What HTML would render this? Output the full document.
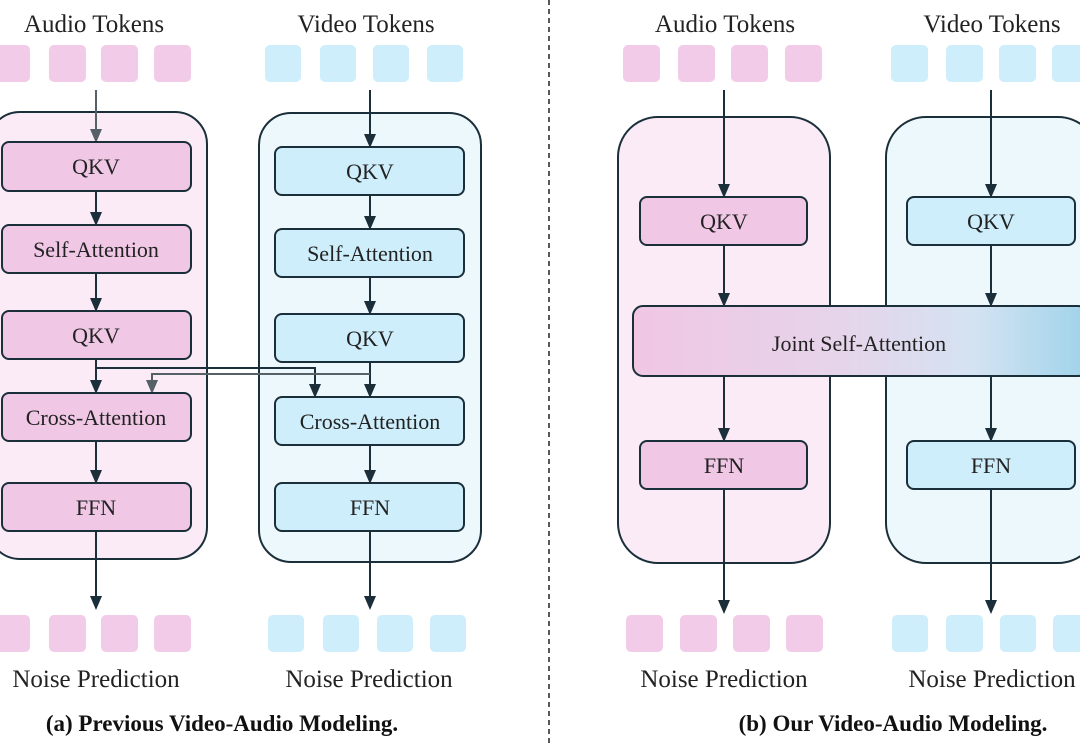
<!DOCTYPE html>
<html><head><meta charset="utf-8"><style>
html,body{margin:0;padding:0;background:#fff;}
svg{display:block;font-family:"Liberation Serif",serif;}
</style></head><body>
<svg width="1080" height="744" viewBox="0 0 1080 744" xmlns="http://www.w3.org/2000/svg">
<defs>
<marker id="ah" markerWidth="14" markerHeight="14" refX="12" refY="6" orient="auto" markerUnits="userSpaceOnUse" viewBox="0 0 14 12"><path d="M0,0 L14,6 L0,12 z" fill="#1b2f3a"/></marker>
<marker id="ahg" markerWidth="14" markerHeight="14" refX="12" refY="6" orient="auto" markerUnits="userSpaceOnUse" viewBox="0 0 14 12"><path d="M0,0 L14,6 L0,12 z" fill="#556067"/></marker>
<linearGradient id="jg" x1="0" x2="1" y1="0" y2="0">
<stop offset="0" stop-color="#f0c6e3"/><stop offset="0.45" stop-color="#e6d4ea"/><stop offset="0.75" stop-color="#d4e3f2"/><stop offset="1" stop-color="#9fd3ea"/></linearGradient>
</defs>
<g font-size="25" fill="#222" text-anchor="middle">
<text x="94" y="32">Audio Tokens</text>
<text x="366" y="32">Video Tokens</text>
<text x="725" y="32">Audio Tokens</text>
<text x="992" y="32">Video Tokens</text>
<text x="96" y="687">Noise Prediction</text>
<text x="369" y="687">Noise Prediction</text>
<text x="724" y="687">Noise Prediction</text>
<text x="992" y="687">Noise Prediction</text>
</g>
<g font-size="23" font-weight="bold" fill="#111" text-anchor="middle">
<text x="222" y="731">(a) Previous Video-Audio Modeling.</text>
<text x="893" y="731">(b) Our Video-Audio Modeling.</text>
</g>
<line x1="549" y1="0" x2="549" y2="744" stroke="#222" stroke-width="1.5" stroke-dasharray="5,4"/>
<g fill="#f2cbe8">
<rect x="-6" y="45" width="36" height="37" rx="5"/><rect x="49" y="45" width="37" height="37" rx="5"/><rect x="101" y="45" width="37" height="37" rx="5"/><rect x="154" y="45" width="37" height="37" rx="5"/>
<rect x="-6" y="615" width="36" height="37" rx="5"/><rect x="49" y="615" width="37" height="37" rx="5"/><rect x="101" y="615" width="37" height="37" rx="5"/><rect x="154" y="615" width="37" height="37" rx="5"/>
<rect x="623" y="45" width="37" height="37" rx="5"/><rect x="678" y="45" width="37" height="37" rx="5"/><rect x="731" y="45" width="37" height="37" rx="5"/><rect x="785" y="45" width="37" height="37" rx="5"/>
<rect x="626" y="615" width="37" height="37" rx="5"/><rect x="680" y="615" width="37" height="37" rx="5"/><rect x="733" y="615" width="37" height="37" rx="5"/><rect x="786" y="615" width="37" height="37" rx="5"/>
</g>
<g fill="#cdeefa">
<rect x="265" y="45" width="36" height="37" rx="5"/><rect x="320" y="45" width="36" height="37" rx="5"/><rect x="373" y="45" width="36" height="37" rx="5"/><rect x="427" y="45" width="36" height="37" rx="5"/>
<rect x="268" y="615" width="36" height="37" rx="5"/><rect x="323" y="615" width="36" height="37" rx="5"/><rect x="377" y="615" width="36" height="37" rx="5"/><rect x="430" y="615" width="36" height="37" rx="5"/>
<rect x="891" y="45" width="37" height="37" rx="5"/><rect x="946" y="45" width="37" height="37" rx="5"/><rect x="999" y="45" width="37" height="37" rx="5"/><rect x="1052" y="45" width="37" height="37" rx="5"/>
<rect x="892" y="615" width="36" height="37" rx="5"/><rect x="946" y="615" width="37" height="37" rx="5"/><rect x="1000" y="615" width="36" height="37" rx="5"/><rect x="1053" y="615" width="37" height="37" rx="5"/>
</g>
<g stroke="#1b2f3a" stroke-width="2">
<rect x="-12" y="112" width="219" height="447" rx="32" fill="#fbebf6"/>
<rect x="259" y="113" width="222" height="449" rx="32" fill="#edf8fc"/>
<rect x="618" y="117" width="212" height="446" rx="40" fill="#fbebf6"/>
<rect x="886" y="117" width="212" height="446" rx="40" fill="#edf8fc"/>
</g>
<g stroke="#1b2f3a" stroke-width="2" fill="none">
<line x1="96" y1="90" x2="96" y2="141" stroke="#556067" marker-end="url(#ahg)"/>
<line x1="96" y1="191" x2="96" y2="224" marker-end="url(#ah)"/>
<line x1="96" y1="273" x2="96" y2="310" marker-end="url(#ah)"/>
<line x1="96" y1="359" x2="96" y2="392" marker-end="url(#ah)"/>
<line x1="96" y1="441" x2="96" y2="482" marker-end="url(#ah)"/>
<line x1="96" y1="531" x2="96" y2="608" marker-end="url(#ah)"/>
<line x1="370" y1="90" x2="370" y2="146" marker-end="url(#ah)"/>
<line x1="370" y1="195" x2="370" y2="228" marker-end="url(#ah)"/>
<line x1="370" y1="277" x2="370" y2="313" marker-end="url(#ah)"/>
<line x1="370" y1="362" x2="370" y2="396" marker-end="url(#ah)"/>
<line x1="370" y1="445" x2="370" y2="482" marker-end="url(#ah)"/>
<line x1="370" y1="531" x2="370" y2="608" marker-end="url(#ah)"/>
<polyline points="96,368 315,368 315,396" marker-end="url(#ah)"/>
<polyline points="370,374 152,374 152,392" stroke="#556067" marker-end="url(#ahg)"/>
</g>
<g stroke="#1b2f3a" stroke-width="2" fill="none">
<line x1="724" y1="90" x2="724" y2="196" marker-end="url(#ah)"/>
<line x1="724" y1="245" x2="724" y2="305" marker-end="url(#ah)"/>
<line x1="724" y1="376" x2="724" y2="440" marker-end="url(#ah)"/>
<line x1="724" y1="489" x2="724" y2="612" marker-end="url(#ah)"/>
<line x1="991" y1="90" x2="991" y2="196" marker-end="url(#ah)"/>
<line x1="991" y1="245" x2="991" y2="305" marker-end="url(#ah)"/>
<line x1="991" y1="376" x2="991" y2="440" marker-end="url(#ah)"/>
<line x1="991" y1="489" x2="991" y2="612" marker-end="url(#ah)"/>
</g>
<g stroke="#1b2f3a" stroke-width="2" fill="#f0c8e6">
<rect x="2" y="142" width="189" height="49" rx="7"/>
<rect x="2" y="225" width="189" height="48" rx="7"/>
<rect x="2" y="311" width="189" height="48" rx="7"/>
<rect x="2" y="393" width="189" height="48" rx="7"/>
<rect x="2" y="483" width="189" height="48" rx="7"/>
<rect x="640" y="197" width="167" height="48" rx="7"/>
<rect x="640" y="441" width="167" height="48" rx="7"/>
</g>
<g stroke="#1b2f3a" stroke-width="2" fill="#cdeefa">
<rect x="275" y="147" width="189" height="48" rx="7"/>
<rect x="275" y="229" width="189" height="48" rx="7"/>
<rect x="275" y="314" width="189" height="48" rx="7"/>
<rect x="275" y="397" width="189" height="48" rx="7"/>
<rect x="275" y="483" width="189" height="48" rx="7"/>
<rect x="907" y="197" width="168" height="48" rx="7"/>
<rect x="907" y="441" width="168" height="48" rx="7"/>
</g>
<rect x="633" y="306" width="455" height="70" rx="10" fill="url(#jg)" stroke="#1b2f3a" stroke-width="2"/>
<g font-size="22" fill="#222" text-anchor="middle">
<text x="96" y="174">QKV</text>
<text x="96" y="257">Self-Attention</text>
<text x="96" y="343">QKV</text>
<text x="96" y="425">Cross-Attention</text>
<text x="96" y="515">FFN</text>
<text x="370" y="179">QKV</text>
<text x="370" y="261">Self-Attention</text>
<text x="370" y="346">QKV</text>
<text x="370" y="429">Cross-Attention</text>
<text x="370" y="515">FFN</text>
<text x="724" y="229">QKV</text>
<text x="991" y="229">QKV</text>
<text x="859" y="351">Joint Self-Attention</text>
<text x="724" y="473">FFN</text>
<text x="991" y="473">FFN</text>
</g>
</svg>
</body></html>
